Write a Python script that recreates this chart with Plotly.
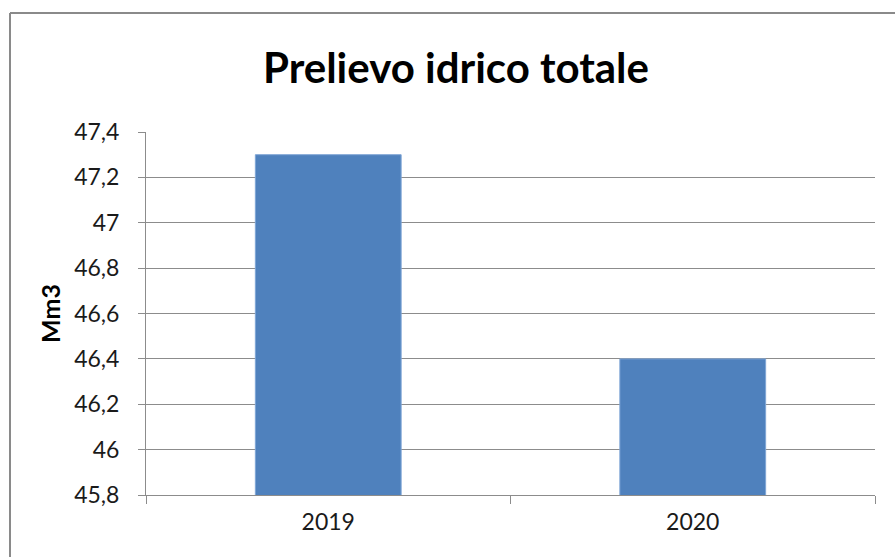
import plotly.graph_objects as go

# Total water withdrawal by year (million cubic metres)
years = ["2019", "2020"]
withdrawal_mm3 = [47.3, 46.4]

W, H = 895, 557
ML, MR, MT, MB = 146, 20, 132, 62
PW, PH = W - ML - MR, H - MT - MB


def px_x(p):
    return (p - ML) / PW


def px_y(p):
    return (H - MB - p) / PH


fig = go.Figure(
    go.Bar(
        x=years,
        y=withdrawal_mm3,
        marker=dict(color="#4F81BD", line=dict(color="#7FA6D6", width=1)),
        width=0.4,
    )
)

grid = "#8C8C8C"
fig.update_layout(
    width=W,
    height=H,
    margin=dict(l=ML, r=MR, t=MT, b=MB),
    paper_bgcolor="white",
    plot_bgcolor="white",
    separators=",.",
    showlegend=False,
    font=dict(family="Lato", color="#1a1a1a"),
    title=dict(
        text="<b>Prelievo idrico totale</b>",
        font=dict(family="Lato", size=42, color="black"),
        x=456 / W,
        xanchor="center",
        y=1 - 68 / H,
        yanchor="middle",
    ),
    xaxis=dict(
        type="category",
        showgrid=False,
        showline=True,
        linecolor=grid,
        linewidth=1,
        ticks="outside",
        tickson="boundaries",
        ticklen=8,
        tickcolor=grid,
        tickfont=dict(size=23, color="#1a1a1a"),
        ticklabelstandoff=6,
    ),
    yaxis=dict(
        range=[45.8, 47.4],
        tick0=45.8,
        dtick=0.2,
        showgrid=True,
        gridcolor=grid,
        gridwidth=1,
        showline=True,
        linecolor=grid,
        linewidth=1,
        ticks="outside",
        ticklen=7,
        tickcolor=grid,
        tickfont=dict(size=23, color="#1a1a1a"),
        ticklabelstandoff=14,
        zeroline=False,
        title=dict(
            text="<b>Mm3</b>",
            font=dict(family="Lato", size=25, color="black"),
            standoff=6,
        ),
    ),
)

# Chart-area frame: left and top edges of the outer border
border = dict(color="#8A8A8A", width=2)
fig.add_shape(type="line", xref="paper", yref="paper",
              x0=px_x(10), x1=px_x(10), y0=px_y(13), y1=px_y(H + 5), line=border)
fig.add_shape(type="line", xref="paper", yref="paper",
              x0=px_x(10), x1=px_x(W + 5), y0=px_y(13), y1=px_y(13), line=border)

fig.write_html("out.html")
